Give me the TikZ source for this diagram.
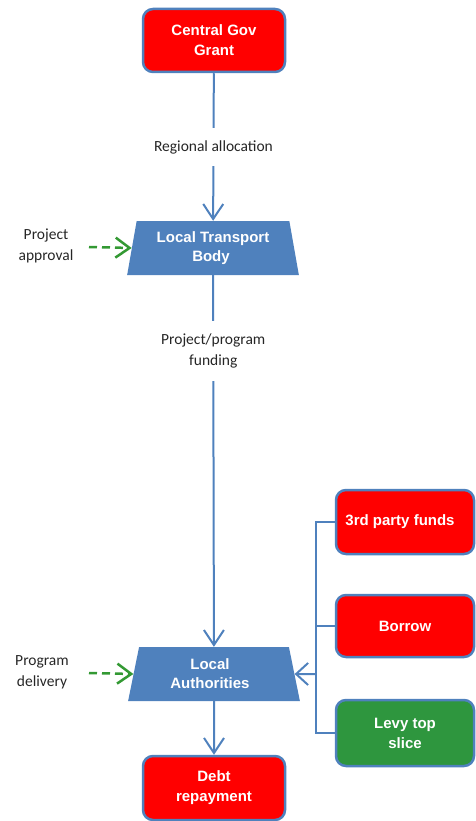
\documentclass[tikz,border=0pt]{standalone}
\usepackage{fontspec}
\setmainfont{Liberation Sans}
\newfontfamily\lblfont{Carlito}
\usetikzlibrary{arrows.meta,shapes.geometric}
\definecolor{bblue}{RGB}{79,129,189}
\definecolor{bred}{RGB}{255,0,0}
\definecolor{bgreen}{RGB}{46,150,62}
\definecolor{dgreen}{RGB}{51,153,51}
\begin{document}
\begin{tikzpicture}[x=1pt,y=-1pt,
  box/.style={draw=bblue, line width=2.5pt, rounded corners=10pt, text=white,
    font=\bfseries\fontsize{15}{20}\selectfont, align=center,
    minimum width=142pt, minimum height=63pt, inner sep=0pt},
  redbox/.style={box, fill=bred},
  sidebox/.style={box, minimum width=138pt, minimum height=64pt},
  trap/.style={trapezium, trapezium left angle=78, trapezium right angle=78,
    trapezium stretches=true, minimum width=172pt, minimum height=54pt,
    fill=bblue, text=white, font=\bfseries\fontsize{15}{19}\selectfont,
    align=center, inner sep=0pt},
  conn/.style={draw=bblue, line width=2pt,
    -{Straight Barb[length=15pt,width=20pt,line width=2pt]}},
  sideconn/.style={draw=bblue, line width=2pt,
    -{Straight Barb[length=12pt,width=22pt,line width=2pt]}},
  tree/.style={draw=bblue, line width=2pt},
  dasharrow/.style={draw=dgreen, line width=2.5pt, dash pattern=on 8pt off 5pt,
    -{Straight Barb[length=14pt,width=20pt,line width=2.5pt]}},
  lbl/.style={font=\lblfont\fontsize{15.5}{21}\selectfont, align=center, text=black!85, inner sep=1pt}
]
\useasboundingbox (0,0) rectangle (476,821);

\node[redbox] (cgg) at (214,40.5) {Central Gov\\Grant};
\node[trap] (ltb) at (213,248) {\raisebox{-2pt}{Local Transport}\\\raisebox{-2pt}{Body}\kern4pt};
\node[trap] (la) at (214,674) {Local\kern8pt\\Authorities\kern8pt};
\node[redbox, minimum height=64pt] (debt) at (214,788) {Debt\\repayment};

\node[sidebox, fill=bred] (third) at (405,522) {3rd party funds\kern10pt};
\node[sidebox, fill=bred, minimum height=62pt] (borrow) at (405,626) {Borrow};
\node[sidebox, fill=bgreen, minimum height=66pt] (levy) at (405,733) {Levy top\\slice};

\draw[conn] (cgg) -- node[lbl, fill=white, minimum height=38pt] {Regional allocation} (ltb);
\draw[conn] (ltb) -- node[lbl, fill=white, pos=0.205, minimum height=60pt] {Project/program\\funding} (la);
\draw[conn] (la) -- (debt);

\coordinate (j) at (316,674);
\draw[tree] (third.west) -- (third.west -| j) |- (levy.west);
\draw[tree] (borrow.west) -- (borrow.west -| j);
\draw[sideconn] (j) -- (la.east);

\coordinate (pa) at (89,247);
\coordinate (pd) at (89,673);
\node[lbl] (palbl) at (46,246) {Project\\approval};
\node[lbl] (pdlbl) at (42,672) {Program\\delivery};
\draw[dasharrow] (pa) -- (ltb.west);
\draw[dasharrow] (pd) -- (la.west);
\end{tikzpicture}
\end{document}
